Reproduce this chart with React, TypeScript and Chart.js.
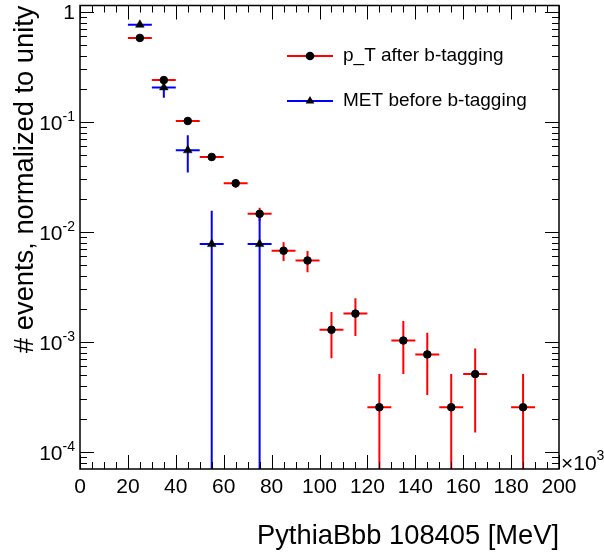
import React, { useEffect, useRef } from "react";
import { Chart, registerables } from "chart.js";

Chart.register(...registerables);

// ---- data ----
const ptX = [25, 35, 45, 55, 65, 75, 85, 95, 105, 115, 125, 135, 145, 155, 165, 185];
const ptY = [0.58, 0.24, 0.102, 0.048, 0.0277, 0.0146, 0.00675, 0.0055, 0.00129, 0.00181, 0.000255, 0.00103, 0.00077, 0.000255, 0.00051, 0.000255];
const ptErr = [0.012, 0.008, 0.005, 0.0035, 0.0026, 0.002, 0.0013, 0.0012, 0.00058, 0.00068, 0.000255, 0.00052, 0.00044, 0.000255, 0.00036, 0.000255];

const metX = [25, 35, 45, 55, 75];
const metY = [0.765, 0.206, 0.0552, 0.00775, 0.00775];
const metErr = [0.03, 0.04, 0.0205, 0.0078, 0.0078];

const binHalfWidth = 5;

const xTickValues = [0, 20, 40, 60, 80, 100, 120, 140, 160, 180, 200];
const xTickLabels = ["0", "20", "40", "60", "80", "100", "120", "140", "160", "180", "200"];
const yDecades = [0, -1, -2, -3, -4];
const xTitle = "PythiaBbb 108405 [MeV]";
const yTitle = "# events, normalized to unity";
const xMultiplier = "×10";
const xMultiplierExp = "3";
const legendLabels = ["p_T after b-tagging", "MET before b-tagging"];

const xMin = 0;
const xMax = 200;
const yMin = 7.48e-5;
const yMax = 1.144;

const RED = "#ff0000";
const BLUE = "#0000ff";
const FONT = '"Liberation Sans", Arial, Helvetica, sans-serif';

function font(size: number) {
  return `${size}px ${FONT}`;
}

const rootStyle = {
  id: "rootStyle",
  beforeDatasetsDraw(chart: any) {
    const { ctx, chartArea: a, scales } = chart;
    const xs = scales.x;
    const ys = scales.y;
    ctx.save();
    ctx.beginPath();
    ctx.rect(a.left, a.top, a.right - a.left, a.bottom - a.top);
    ctx.clip();
    const drawErr = (X: number[], Y: number[], E: number[], color: string) => {
      ctx.strokeStyle = color;
      ctx.lineWidth = 2;
      for (let i = 0; i < X.length; i++) {
        const px = xs.getPixelForValue(X[i]);
        const py = ys.getPixelForValue(Y[i]);
        const x0 = xs.getPixelForValue(X[i] - binHalfWidth);
        const x1 = xs.getPixelForValue(X[i] + binHalfWidth);
        ctx.beginPath();
        ctx.moveTo(x0, py);
        ctx.lineTo(x1, py);
        ctx.stroke();
        const hi = ys.getPixelForValue(Y[i] + E[i]);
        const lowV = Y[i] - E[i];
        const lo = lowV > 0 ? ys.getPixelForValue(lowV) : a.bottom + 2;
        ctx.beginPath();
        ctx.moveTo(px, hi);
        ctx.lineTo(px, lo);
        ctx.stroke();
      }
    };
    drawErr(ptX, ptY, ptErr, RED);
    drawErr(metX, metY, metErr, BLUE);
    ctx.restore();
  },
  afterDraw(chart: any) {
    const { ctx, chartArea: a, scales } = chart;
    const xs = scales.x;
    const ys = scales.y;
    ctx.save();

    // ticks
    ctx.strokeStyle = "#000";
    ctx.lineWidth = 1;
    ctx.beginPath();
    for (let v = xMin; v <= xMax; v += 5) {
      const px = Math.round(xs.getPixelForValue(v)) + 0.5;
      const len = v % 20 === 0 ? 14 : 7;
      ctx.moveTo(px, a.bottom);
      ctx.lineTo(px, a.bottom - len);
      ctx.moveTo(px, a.top);
      ctx.lineTo(px, a.top + len);
    }
    for (let d = 0; d >= -5; d--) {
      for (let m = 1; m <= 9; m++) {
        const v = m * Math.pow(10, d);
        if (v < yMin || v > yMax) continue;
        const py = Math.round(ys.getPixelForValue(v)) + 0.5;
        const len = m === 1 ? 14 : 7;
        ctx.moveTo(a.left, py);
        ctx.lineTo(a.left + len, py);
        ctx.moveTo(a.right, py);
        ctx.lineTo(a.right - len, py);
      }
    }
    ctx.stroke();

    // frame
    ctx.lineWidth = 1.5;
    ctx.strokeRect(a.left, a.top, a.right - a.left, a.bottom - a.top);

    // x tick labels
    ctx.fillStyle = "#000";
    ctx.font = font(21);
    ctx.textAlign = "center";
    ctx.textBaseline = "alphabetic";
    xTickValues.forEach((v, i) => {
      ctx.fillText(xTickLabels[i], xs.getPixelForValue(v), a.bottom + 24);
    });

    // x multiplier
    ctx.textAlign = "left";
    ctx.font = font(21);
    const mx = a.right + 2;
    ctx.fillText(xMultiplier, mx, a.bottom + 1);
    const mw = ctx.measureText(xMultiplier).width;
    ctx.font = font(14);
    ctx.fillText(xMultiplierExp, mx + mw, a.bottom - 9);

    // y tick labels
    yDecades.forEach((d) => {
      const py = ys.getPixelForValue(Math.pow(10, d));
      const right = a.left - 5;
      if (d === 0) {
        ctx.font = font(21);
        ctx.textAlign = "right";
        ctx.fillText("1", right, py + 7.5);
      } else {
        ctx.font = font(14);
        ctx.textAlign = "right";
        const sup = "-" + String(-d);
        const sw = ctx.measureText(sup).width;
        ctx.fillText(sup, right, py - 1);
        ctx.font = font(21);
        ctx.fillText("10", right - sw, py + 8.5);
      }
    });

    // axis titles
    ctx.font = font(27.3);
    ctx.textAlign = "right";
    ctx.fillText(xTitle, a.right, 544);
    ctx.save();
    ctx.translate(33, a.top);
    ctx.rotate(-Math.PI / 2);
    ctx.textAlign = "right";
    ctx.fillText(yTitle, 0, 0);
    ctx.restore();

    // legend
    const rows = [
      { y: 56, color: RED, style: "circle" },
      { y: 101, color: BLUE, style: "triangle" },
    ];
    rows.forEach((r, i) => {
      ctx.strokeStyle = r.color;
      ctx.lineWidth = 2;
      ctx.beginPath();
      ctx.moveTo(287, r.y);
      ctx.lineTo(333, r.y);
      ctx.stroke();
      ctx.fillStyle = "#000";
      ctx.beginPath();
      if (r.style === "circle") {
        ctx.arc(310, r.y, 4.3, 0, Math.PI * 2);
      } else {
        const rad = 5;
        ctx.moveTo(310, r.y - rad);
        ctx.lineTo(310 + rad * 0.866, r.y + rad * 0.5);
        ctx.lineTo(310 - rad * 0.866, r.y + rad * 0.5);
        ctx.closePath();
      }
      ctx.fill();
      ctx.font = font(19);
      ctx.textAlign = "left";
      ctx.textBaseline = "middle";
      ctx.fillText(legendLabels[i], 343, r.y);
      ctx.textBaseline = "alphabetic";
    });

    ctx.restore();
  },
};

export default function App() {
  const ref = useRef<HTMLCanvasElement | null>(null);

  useEffect(() => {
    if (!ref.current) return;
    const chart = new Chart(ref.current, {
      type: "scatter",
      data: {
        datasets: [
          {
            label: legendLabels[0],
            data: ptX.map((x, i) => ({ x, y: ptY[i] })),
            pointStyle: "circle",
            pointRadius: 3.8,
            pointBackgroundColor: "#000",
            pointBorderColor: "#000",
            pointBorderWidth: 1,
          },
          {
            label: legendLabels[1],
            data: metX.map((x, i) => ({ x, y: metY[i] })),
            pointStyle: "triangle",
            pointRadius: 5,
            pointBackgroundColor: "#000",
            pointBorderColor: "#000",
            pointBorderWidth: 0.5,
          },
        ],
      },
      options: {
        responsive: false,
        devicePixelRatio: 1,
        animation: false,
        layout: { padding: { left: 80, top: 5, right: 45, bottom: 84 } },
        plugins: { legend: { display: false }, tooltip: { enabled: false } },
        scales: {
          x: { type: "linear", min: xMin, max: xMax, display: false },
          y: { type: "logarithmic", min: yMin, max: yMax, display: false },
        },
      },
      plugins: [rootStyle],
    });
    return () => chart.destroy();
  }, []);

  return (
    <div style={{ position: "absolute", left: 0, top: 0, width: 604, height: 553, background: "#fff" }}>
      <canvas ref={ref} width={604} height={553} style={{ display: "block" }} />
    </div>
  );
}
